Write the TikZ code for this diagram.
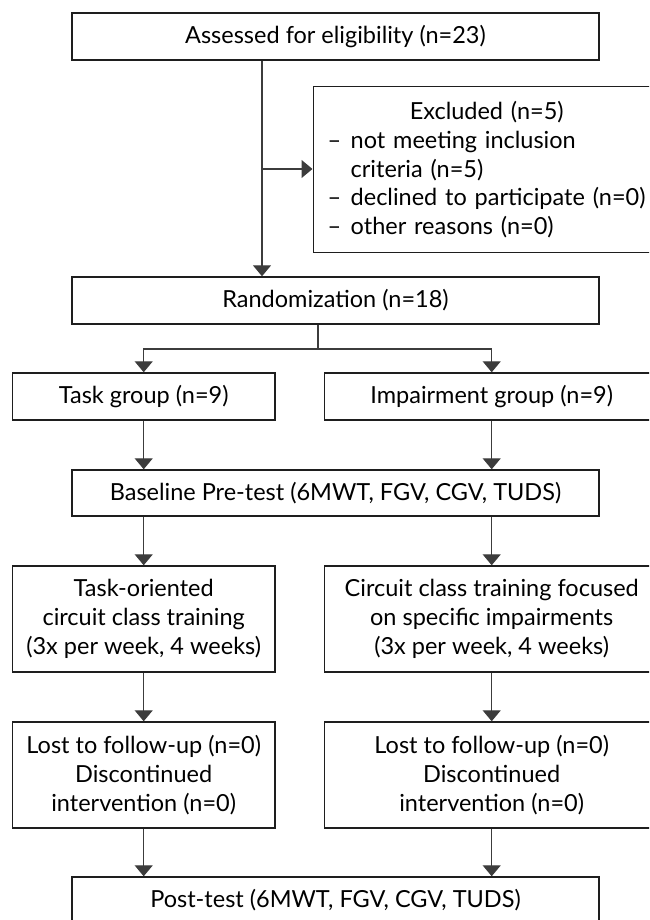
\documentclass[tikz,border=0pt]{standalone}
\usepackage{fontspec}
\setmainfont{Lato}
\usetikzlibrary{arrows.meta,positioning}
\definecolor{lineGrey}{RGB}{60,60,60}
\definecolor{boxBlack}{RGB}{30,30,30}

\begin{document}
\begin{tikzpicture}[
    x=1pt, y=-1pt,
    box/.style={draw=boxBlack, line width=1.4pt, align=center, inner sep=0pt, font=\fontsize{23.5}{28.75}\selectfont},
    arrow/.style={-{Triangle[length=11pt, width=18pt]}, line width=1.3pt, lineGrey},
    link/.style={line width=1.3pt, lineGrey}
]
    \useasboundingbox (0,0) rectangle (649,920);
    \clip (0,0) rectangle (649,920);

    % Boxes
    \node[box, minimum width=527pt, minimum height=47pt] (assess) at (335.5,36.5) {Assessed for eligibility (n=23)};
    \node[box, anchor=north west, minimum height=166pt, text width=330pt, inner xsep=14.5pt, align=left] (excl) at (312.5,86)
        {\makebox[318pt]{Excluded (n=5)}\\
         \makebox[23pt][l]{--}not meeting inclusion\\
         \hspace*{23pt}criteria (n=5)\\
         \makebox[23pt][l]{--}declined to participate (n=0)\\
         \makebox[23pt][l]{--}other reasons (n=0)};
    \node[box, minimum width=527pt, minimum height=47pt] (rand) at (335.5,300.5) {Randomization (n=18)};
    \node[box, minimum width=262.6pt, minimum height=47pt] (task) at (143.7,396.5) {Task group (n=9)};
    \node[box, minimum width=335pt, minimum height=47pt] (imp) at (491.7,396.5) {Impairment group (n=9)};
    \node[box, minimum width=527pt, minimum height=46pt] (base) at (335.5,493) {Baseline Pre-test (6MWT, FGV, CGV, TUDS)};
    \node[box, minimum width=262.6pt, minimum height=106pt] (ttask) at (143.7,619) {Task-oriented\\circuit class training\\(3x per week, 4 weeks)};
    \node[box, minimum width=335pt, minimum height=106pt] (timp) at (491.7,619) {Circuit class training focused\\on specific impairments\\(3x per week, 4 weeks)};
    \node[box, minimum width=262.6pt, minimum height=106pt] (ltask) at (143.7,775) {Lost to follow-up (n=0)\\Discontinued\\intervention (n=0)};
    \node[box, minimum width=335pt, minimum height=106pt] (limp) at (491.7,775) {Lost to follow-up (n=0)\\Discontinued\\intervention (n=0)};
    \node[box, minimum width=527pt, minimum height=47pt] (post) at (335.5,900.5) {Post-test (6MWT, FGV, CGV, TUDS)};

    % Junctions
    \coordinate (trunk) at (262,169);
    \coordinate (split) at (318,349);

    % Arrows
    \draw[arrow] (assess.south -| trunk) -- (rand.north -| trunk);
    \draw[arrow] (trunk) -- (trunk -| excl.west);
    \draw[link] (rand.south -| split) -- (split);
    \draw[arrow] (split) -| (task);
    \draw[arrow] (split) -| (imp);
    \draw[arrow] (task) -- (task |- base.north);
    \draw[arrow] (imp) -- (imp |- base.north);
    \draw[arrow] (task |- base.south) -- (ttask);
    \draw[arrow] (imp |- base.south) -- (timp);
    \draw[arrow] (ttask) -- (ltask);
    \draw[arrow] (timp) -- (limp);
    \draw[arrow] (ltask) -- (ltask |- post.north);
    \draw[arrow] (limp) -- (limp |- post.north);
\end{tikzpicture}
\end{document}
